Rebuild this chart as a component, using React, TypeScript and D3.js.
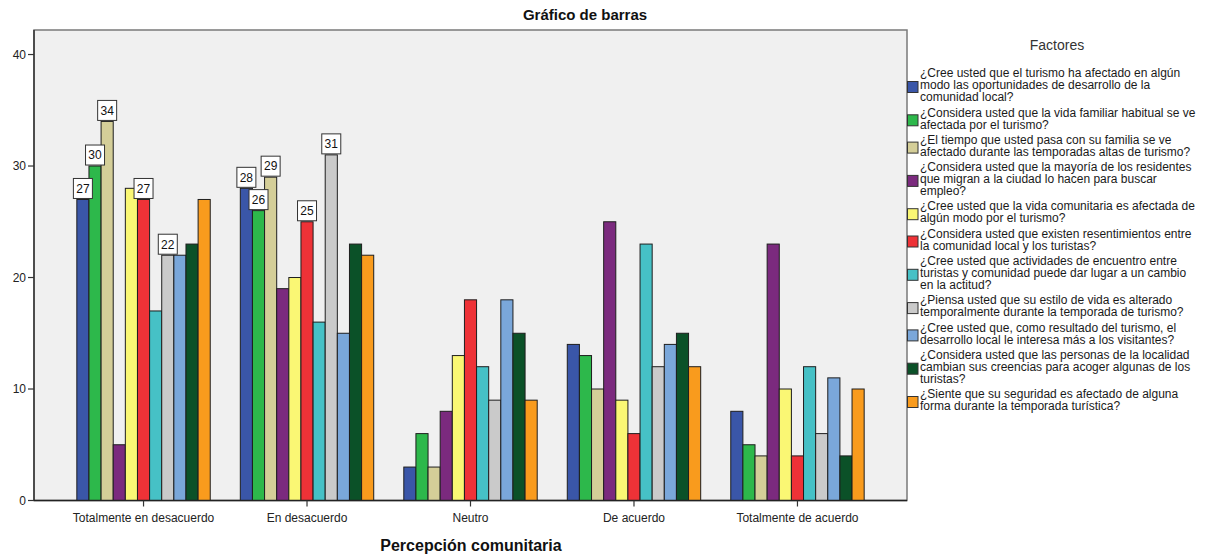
import React from "react";
import * as d3 from "d3";

const categories = [
  "Totalmente en desacuerdo",
  "En desacuerdo",
  "Neutro",
  "De acuerdo",
  "Totalmente de acuerdo",
];

const seriesNames = [
  "¿Cree usted que el turismo ha afectado en algún|modo las oportunidades de desarrollo de la|comunidad local?",
  "¿Considera usted que la vida familiar habitual se ve|afectada por el turismo?",
  "¿El tiempo que usted pasa con su familia se ve|afectado durante las temporadas altas de turismo?",
  "¿Considera usted que la mayoría de los residentes|que migran a la ciudad lo hacen para buscar|empleo?",
  "¿Cree usted que la vida comunitaria es afectada de|algún modo por el turismo?",
  "¿Considera usted que existen resentimientos entre|la comunidad local y los turistas?",
  "¿Cree usted que actividades de encuentro entre|turistas y comunidad puede dar lugar a un cambio|en la actitud?",
  "¿Piensa usted que su estilo de vida es alterado|temporalmente durante la temporada de turismo?",
  "¿Cree usted que, como resultado del turismo, el|desarrollo local le interesa más a los visitantes?",
  "¿Considera usted que las personas de la localidad|cambian sus creencias para acoger algunas de los|turistas?",
  "¿Siente que su seguridad es afectado de alguna|forma durante la temporada turística?",
];

const colors = [
  "#3A56A8", "#2DB84B", "#D4CE98", "#7B2A7E", "#FAF774", "#EE3237",
  "#46C1C6", "#CACACA", "#7AA7DA", "#0B5128", "#F99B1D",
];

// values[category][series]
const totDesacuerdo = [27, 30, 34, 5, 28, 27, 17, 22, 22, 23, 27];
const enDesacuerdo = [28, 26, 29, 19, 20, 25, 16, 31, 15, 23, 22];
const neutro = [3, 6, 3, 8, 13, 18, 12, 9, 18, 15, 9];
const deAcuerdo = [14, 13, 10, 25, 9, 6, 23, 12, 14, 15, 12];
const totAcuerdo = [8, 5, 4, 23, 10, 4, 12, 6, 11, 4, 10];
const values = [totDesacuerdo, enDesacuerdo, neutro, deAcuerdo, totAcuerdo];

// which bars carry a value label
const labeled = [
  [true, true, true, false, false, true, false, true, false, false, false],
  [true, true, true, false, false, true, false, true, false, false, false],
  [false, false, false, false, false, false, false, false, false, false, false],
  [false, false, false, false, false, false, false, false, false, false, false],
  [false, false, false, false, false, false, false, false, false, false, false],
];

const yTicks = [0, 10, 20, 30, 40];

export default function App() {
  const W = 1216, H = 558;
  const left = 34, right = 907, top = 30, bottom = 500.5;
  const font = "Arial, 'Liberation Sans', sans-serif";

  const x0 = d3.scaleBand<string>().domain(categories).range([left, right]).paddingOuter(0.17).paddingInner(0);
  const bw = x0.bandwidth();
  const gw = bw * 0.816;
  const x1 = d3.scaleBand<number>().domain(d3.range(seriesNames.length)).range([0, gw]);
  const y = d3.scaleLinear().domain([0, 42.2]).range([bottom, top]);

  // legend layout
  const lineH = 12;
  const gap = 3.3;
  let cy = 73;
  const legendItems = seriesNames.map((s, i) => {
    const lines = s.split("|");
    const startY = cy;
    cy += lines.length * lineH + gap;
    return { lines, startY, i };
  });

  return (
    <svg width={W} height={H} style={{ position: "absolute", left: 0, top: 0, background: "#fff" }} fontFamily={font}>
      <rect x={0} y={0} width={W} height={H} fill="#fff" />
      <text x={585} y={20} textAnchor="middle" fontSize={15} fontWeight="bold" fill="#111">Gráfico de barras</text>
      <rect x={left} y={top} width={right - left} height={bottom - top} fill="#F0F0F0" stroke="#7a7a7a" strokeWidth={1.5} />

      {categories.map((c, ci) => {
        const gx = (x0(c) as number) + (bw - gw) / 2;
        return (
          <g key={c}>
            {values[ci].map((v, si) => (
              <rect key={si} x={gx + (x1(si) as number)} y={y(v)} width={x1.bandwidth()} height={y(0) - y(v)}
                fill={colors[si]} stroke="#1e1e1e" strokeWidth={1} />
            ))}
          </g>
        );
      })}

      {/* axes */}
      <line x1={left} y1={top} x2={left} y2={bottom} stroke="#333" strokeWidth={1.5} />
      <line x1={left} y1={bottom} x2={right} y2={bottom} stroke="#222" strokeWidth={1.5} />
      {yTicks.map((t) => (
        <g key={t}>
          <line x1={left - 6} x2={left} y1={y(t)} y2={y(t)} stroke="#333" strokeWidth={1.2} />
          <text x={left - 8} y={y(t)} dy="0.35em" textAnchor="end" fontSize={12} fill="#222">{t}</text>
        </g>
      ))}
      {categories.map((c) => {
        const cx = (x0(c) as number) + bw / 2;
        return (
          <g key={c}>
            <line x1={cx} x2={cx} y1={bottom} y2={bottom + 6} stroke="#333" strokeWidth={1.2} />
            <text x={cx} y={518} dy="0.35em" textAnchor="middle" fontSize={12} fill="#222">{c}</text>
          </g>
        );
      })}
      <text x={471} y={551} textAnchor="middle" fontSize={16} fontWeight="bold" fill="#111">Percepción comunitaria</text>

      {/* value labels */}
      {categories.map((c, ci) => {
        const gx = (x0(c) as number) + (bw - gw) / 2;
        return values[ci].map((v, si) => {
          if (!labeled[ci][si]) return null;
          const cx = gx + (x1(si) as number) + x1.bandwidth() / 2;
          const by = y(v) - 1;
          return (
            <g key={`${ci}-${si}`}>
              <rect x={cx - 9.5} y={by - 20} width={19} height={20} fill="#fff" stroke="#333" strokeWidth={1} />
              <text x={cx} y={by - 10} dy="0.36em" textAnchor="middle" fontSize={12} fill="#111">{v}</text>
            </g>
          );
        });
      })}

      {/* legend */}
      <text x={1057} y={45} dy="0.35em" textAnchor="middle" fontSize={14} fill="#333">Factores</text>
      {legendItems.map(({ lines, startY, i }) => {
        const mid = startY + ((lines.length - 1) * lineH) / 2 + 2;
        return (
          <g key={i}>
            <rect x={907.5} y={mid - 5.5} width={10.5} height={11} fill={colors[i]} stroke="#333" strokeWidth={1} />
            {lines.map((l, li) => (
              <text key={li} x={920} y={startY + li * lineH} dy="0.35em" fontSize={12} fill="#1a1a1a">{l}</text>
            ))}
          </g>
        );
      })}
    </svg>
  );
}
